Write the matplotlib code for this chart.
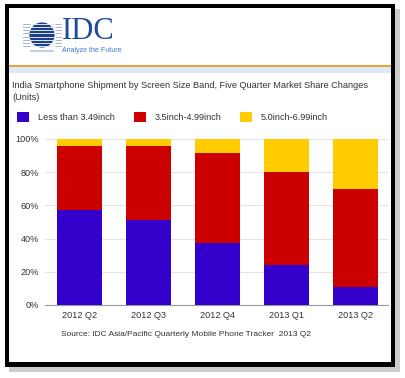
import numpy as np
import matplotlib
matplotlib.use('Agg')
import matplotlib.pyplot as plt
from matplotlib.patches import Rectangle, Circle

plt.rcParams['font.family'] = ['Liberation Sans', 'DejaVu Sans']

# 数据
quarters = ['2012 Q2', '2012 Q3', '2012 Q4', '2013 Q1', '2013 Q2']
series = ['Less than 3.49inch', '3.5inch-4.99inch', '5.0inch-6.99inch']
small = [57, 51, 37.5, 24, 11]
mid = [38.5, 45, 54, 56, 59]
large = [4.5, 4, 8.5, 20, 30]
colors = ['#3300CC', '#CC0000', '#FFCC00']
yticks = [0, 20, 40, 60, 80, 100]

W, H = 406, 378
fig = plt.figure(figsize=(W / 100, H / 100), dpi=100)

def fx(px):
    return px / W

def fy(py):
    return 1 - py / H

def add_rect(x0, y0, x1, y1, c, **kw):
    # 像素坐标 -> 图坐标，放在坐标轴下层
    fig.patches.append(Rectangle((fx(x0), fy(y1)), fx(x1 - x0), (y1 - y0) / H,
                                 transform=fig.transFigure, facecolor=c, edgecolor='none',
                                 zorder=-10, **kw))

# 阴影和黑框
add_rect(9, 9, 400, 372, '#b8b8b8', alpha=0.7)
add_rect(5, 4, 395, 367, 'black')
add_rect(9, 8, 391, 362, 'white')

# 页眉：橙线 + 浅蓝带
add_rect(9, 66, 391, 73, '#dde9f7')
add_rect(9, 64.5, 391, 66.5, '#f0a030')

# IDC 标志
logo = fig.add_axes([fx(22), fy(55), fx(40), 40 / H])
logo.set_xlim(-1.6, 1.6)
logo.set_ylim(-1.4, 1.4)
logo.set_aspect('equal')
logo.axis('off')
for yy in np.linspace(-0.9, 0.9, 8):
    logo.plot([-1.5, 1.5], [yy, yy], color='#9aa8c8', lw=0.6)
logo.add_patch(Circle((0, 0), 0.95, color='#1c3f8c'))
for yy in np.linspace(-0.9, 0.9, 8):
    logo.plot([-1.0, 1.0], [yy, yy], color='white', lw=0.5)
logo.plot([-0.9, 0.9], [-1.3, -1.3], color='#c8d0e0', lw=1.5)
fig.text(fx(62), fy(39), 'IDC', fontsize=22, family=['Liberation Serif', 'DejaVu Serif'],
         color='#1f4a99', va='baseline', ha='left')
fig.text(fx(62), fy(50), 'Analyze the Future', fontsize=5, color='#3a78c8', va='center', ha='left')

# 标题
fig.text(fx(12), fy(86), 'India Smartphone Shipment by Screen Size Band, Five Quarter Market Share Changes',
         fontsize=6.6, color='#333333', va='center')
fig.text(fx(12), fy(98), '(Units)', fontsize=6.6, color='#333333', va='center')

# 图例
leg_x = [17, 134, 240]
for lx, name, c in zip(leg_x, series, colors):
    fig.patches.append(Rectangle((fx(lx), fy(122)), fx(12), 10 / H, transform=fig.transFigure,
                                 facecolor=c, edgecolor='none'))
    fig.text(fx(lx + 21), fy(117), name, fontsize=6.6, color='#333333', va='center')

# 主图
ax = fig.add_axes([fx(45), fy(305), fx(388 - 45), (305 - 139) / H])
x = np.arange(len(quarters))
bottom = np.zeros(len(quarters))
for vals, c in zip([small, mid, large], colors):
    ax.bar(x, vals, width=0.65, bottom=bottom, color=c, edgecolor='none', zorder=3)
    bottom += np.array(vals)

ax.set_xlim(-0.5, 4.47)
ax.set_ylim(0, 100)
ax.set_yticks(yticks)
ax.set_yticklabels([f'{v}%' for v in yticks], fontsize=6.6, color='#333333')
ax.set_xticks(x)
ax.set_xticklabels(quarters, fontsize=6.6, color='#333333')
ax.tick_params(length=0, pad=4)
ax.grid(axis='y', color='#e8e0e4', lw=0.8, zorder=0)
for s in ['top', 'right', 'left']:
    ax.spines[s].set_visible(False)
ax.spines['bottom'].set_color('#999999')
ax.set_facecolor('none')

fig.text(fx(186), fy(334), 'Source: IDC Asia/Pacific Quarterly Mobile Phone Tracker  2013 Q2',
         fontsize=6, color='#333333', va='center', ha='center')

fig.savefig('out.png', dpi=100)
